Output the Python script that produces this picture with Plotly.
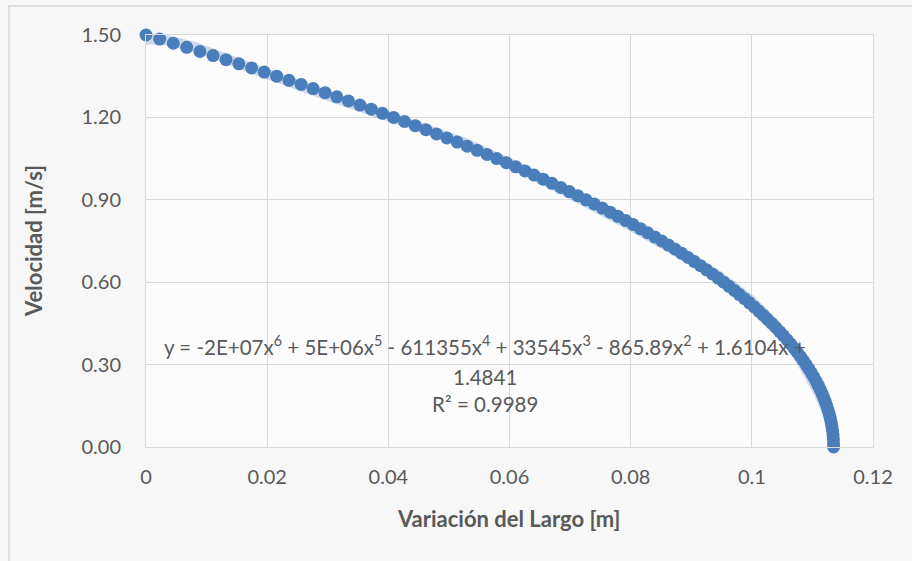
import numpy as np
import plotly.graph_objects as go

# Variación del Largo [m]
largo = [0.0, 0.00226, 0.00450, 0.00671, 0.00890, 0.01107, 0.01321, 0.01533, 0.01743, 0.01951,
         0.02157, 0.02360, 0.02561, 0.02759, 0.02956, 0.03150, 0.03341, 0.03531, 0.03718, 0.03903,
         0.04086, 0.04267, 0.04445, 0.04621, 0.04794, 0.04966, 0.05135, 0.05302, 0.05466, 0.05629,
         0.05789, 0.05946, 0.06102, 0.06255, 0.06406, 0.06555, 0.06701, 0.06845, 0.06987, 0.07127,
         0.07264, 0.07399, 0.07532, 0.07662, 0.07791, 0.07917, 0.08040, 0.08162, 0.08281, 0.08398,
         0.08513, 0.08625, 0.08735, 0.08843, 0.08948, 0.09052, 0.09153, 0.09251, 0.09348, 0.09442,
         0.09534, 0.09624, 0.09711, 0.09796, 0.09879, 0.09960, 0.10038, 0.10114, 0.10188, 0.10259,
         0.10329, 0.10396, 0.10460, 0.10523, 0.10583, 0.10641, 0.10696, 0.10750, 0.10801, 0.10850,
         0.10896, 0.10940, 0.10982, 0.11022, 0.11059, 0.11095, 0.11128, 0.11158, 0.11187, 0.11213,
         0.11237, 0.11258, 0.11277, 0.11294, 0.11309, 0.11322, 0.11332, 0.11340, 0.11346, 0.11349,
         0.11350]

# Velocidad [m/s]
velocidad = [1.500, 1.485, 1.470, 1.455, 1.440, 1.425, 1.410, 1.395, 1.380, 1.365,
             1.350, 1.335, 1.320, 1.305, 1.290, 1.275, 1.260, 1.245, 1.230, 1.215,
             1.200, 1.185, 1.170, 1.155, 1.140, 1.125, 1.110, 1.095, 1.080, 1.065,
             1.050, 1.035, 1.020, 1.005, 0.990, 0.975, 0.960, 0.945, 0.930, 0.915,
             0.900, 0.885, 0.870, 0.855, 0.840, 0.825, 0.810, 0.795, 0.780, 0.765,
             0.750, 0.735, 0.720, 0.705, 0.690, 0.675, 0.660, 0.645, 0.630, 0.615,
             0.600, 0.585, 0.570, 0.555, 0.540, 0.525, 0.510, 0.495, 0.480, 0.465,
             0.450, 0.435, 0.420, 0.405, 0.390, 0.375, 0.360, 0.345, 0.330, 0.315,
             0.300, 0.285, 0.270, 0.255, 0.240, 0.225, 0.210, 0.195, 0.180, 0.165,
             0.150, 0.135, 0.120, 0.105, 0.090, 0.075, 0.060, 0.045, 0.030, 0.015,
             0.000]

x_ticks = [0, 0.02, 0.04, 0.06, 0.08, 0.1, 0.12]
x_tick_text = ["0", "0.02", "0.04", "0.06", "0.08", "0.1", "0.12"]
y_ticks = [0.0, 0.3, 0.6, 0.9, 1.2, 1.5]
y_tick_text = ["0.00", "0.30", "0.60", "0.90", "1.20", "1.50"]

x_title = "<b>Variación del Largo [m]</b>"
y_title = "<b>Velocidad [m/s]</b>"
eq_line1 = ("y = -2E+07x<sup>6</sup> + 5E+06x<sup>5</sup> - 611355x<sup>4</sup> + "
            "33545x<sup>3</sup> - 865.89x<sup>2</sup> + 1.6104x +")
eq_line2 = "1.4841"
eq_line3 = "R² = 0.9989"

# Polynomial (order 6) trendline, as the spreadsheet computes it
coef = np.polyfit(largo, velocidad, 6)
xt = np.linspace(min(largo), max(largo), 400)
yt = np.polyval(coef, xt)

FONT = "Lato, Carlito, Calibri, sans-serif"
GRAY = "#595959"

fig = go.Figure()
fig.add_trace(go.Scatter(x=xt, y=yt, mode="lines",
                         line=dict(color="rgba(74,126,187,0.28)", width=10),
                         hoverinfo="skip", showlegend=False, cliponaxis=False))
fig.add_trace(go.Scatter(x=largo, y=velocidad, mode="markers",
                         marker=dict(color="#4a7ebb", size=13, line=dict(width=0)),
                         showlegend=False, cliponaxis=False))

ann_font = dict(family=FONT, size=20.5, color=GRAY)
fig.add_annotation(x=0.056, y=0.371, text=eq_line1, showarrow=False, font=ann_font,
                   xanchor="center", yanchor="middle")
fig.add_annotation(x=0.056, y=0.255, text=eq_line2, showarrow=False, font=ann_font,
                   xanchor="center", yanchor="middle")
fig.add_annotation(x=0.056, y=0.157, text=eq_line3, showarrow=False, font=ann_font,
                   xanchor="center", yanchor="middle")

# axis titles
title_font = dict(family=FONT, size=22, color=GRAY)
fig.add_annotation(xref="paper", yref="paper", x=(508 - 146) / 727, y=(447 - 518) / 412,
                   text=x_title, showarrow=False, font=title_font,
                   xanchor="center", yanchor="middle")
fig.add_annotation(xref="paper", yref="paper", x=(33 - 146) / 727, y=(447 - 241) / 412,
                   text=y_title, showarrow=False, font=title_font, textangle=-90,
                   xanchor="center", yanchor="middle")

# chart-area border (left and top edges inside the view)
fig.add_shape(type="rect", xref="paper", yref="paper",
              x0=(9 - 146) / 727, x1=(930 - 146) / 727,
              y0=(447 - 580) / 412, y1=(447 - 6) / 412,
              line=dict(color="#d9d9d9", width=1.5), fillcolor="rgba(0,0,0,0)", layer="below")

fig.update_layout(
    width=912, height=561,
    margin=dict(l=146, r=39, t=35, b=114),
    paper_bgcolor="#f7f7f7",
    plot_bgcolor="#fcfcfc",
    font=dict(family=FONT, size=20, color=GRAY),
    xaxis=dict(range=[0, 0.12], tickvals=x_ticks, ticktext=x_tick_text,
               showgrid=True, gridcolor="#d9d9d9", gridwidth=1.3,
               zeroline=False, showline=True, linecolor="#d9d9d9", mirror=True,
               ticks="", ticklabelstandoff=12, automargin=False,
               tickfont=dict(family=FONT, size=20, color=GRAY)),
    yaxis=dict(range=[0, 1.5], tickvals=y_ticks, ticktext=y_tick_text,
               showgrid=True, gridcolor="#d9d9d9", gridwidth=1.3,
               zeroline=False, showline=True, linecolor="#d9d9d9", mirror=True,
               ticks="", ticklabelstandoff=20, automargin=False,
               tickfont=dict(family=FONT, size=20, color=GRAY)),
)

fig.write_html("out.html", config={"displayModeBar": False},
               post_script="document.body.style.margin='0';document.body.style.overflow='hidden';")
